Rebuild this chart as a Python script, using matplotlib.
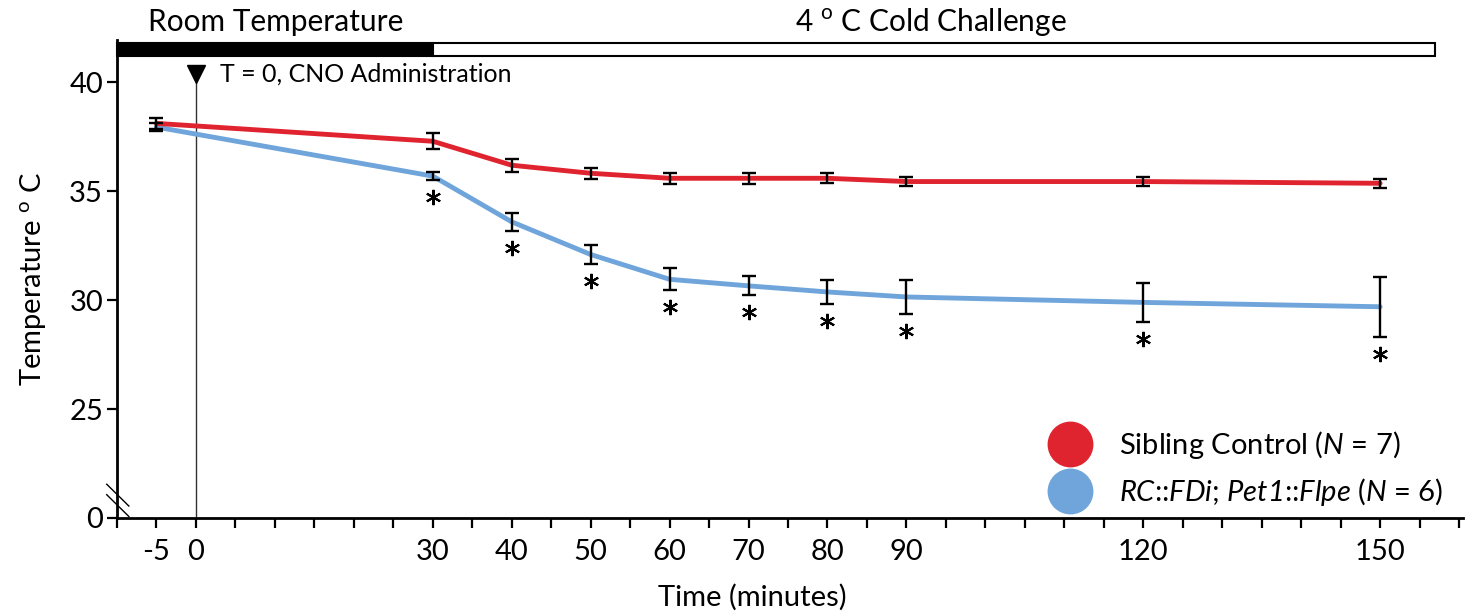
import numpy as np
import matplotlib
matplotlib.use("Agg")
import matplotlib.pyplot as plt
import matplotlib.transforms as mtransforms
from matplotlib.lines import Line2D
from matplotlib.patches import Rectangle

plt.rcParams['font.family'] = ['Lato', 'DejaVu Sans']
plt.rcParams['mathtext.fontset'] = 'custom'
plt.rcParams['mathtext.rm'] = 'Lato'
plt.rcParams['mathtext.it'] = 'Lato:italic'
plt.rcParams['mathtext.sf'] = 'Lato:italic'

# ---- data ----
time_min = [-5, 30, 40, 50, 60, 70, 80, 90, 120, 150]
control_mean = [38.12, 37.3, 36.2, 35.83, 35.6, 35.6, 35.6, 35.45, 35.45, 35.37]
control_sem = [0.25, 0.37, 0.3, 0.26, 0.25, 0.25, 0.22, 0.2, 0.22, 0.22]
mutant_mean = [37.95, 35.7, 33.6, 32.1, 30.96, 30.66, 30.38, 30.15, 29.9, 29.7]
mutant_sem = [0.2, 0.2, 0.4, 0.45, 0.5, 0.43, 0.56, 0.76, 0.9, 1.38]
significant = [False, True, True, True, True, True, True, True, True, True]

label_ticks = [-5, 0, 30, 40, 50, 60, 70, 80, 90, 120, 150]
y_ticks = [20, 25, 30, 35, 40]
y_ticklabels = ['0', '25', '30', '35', '40']

red = '#e0242f'
blue = '#6fa5da'
fs = 21

fig = plt.figure(figsize=(14.76, 6.13), dpi=100)
ax = fig.add_axes([117 / 1476, 1 - 518 / 613, (1463 - 117) / 1476, (518 - 40) / 613])
ax.set_xlim(-10, 160.5)
ax.set_ylim(20, 41.95)

# lines
ax.plot(time_min, mutant_mean, color=blue, lw=3.5, zorder=3, solid_capstyle='round')
ax.plot(time_min, control_mean, color=red, lw=3.5, zorder=3, solid_capstyle='round')
ax.errorbar(time_min, control_mean, yerr=control_sem, fmt='none', ecolor='black',
            elinewidth=1.7, capsize=5, capthick=1.7, zorder=4)
ax.errorbar(time_min, mutant_mean, yerr=mutant_sem, fmt='none', ecolor='black',
            elinewidth=1.7, capsize=5, capthick=1.7, zorder=4)

# significance asterisks, a fixed distance below the lower error bar
below = mtransforms.offset_copy(ax.transData, fig=fig, y=-17, units='dots')
sig_t = [t for t, s in zip(time_min, significant) if s]
sig_y = [m - e for m, e, s in zip(mutant_mean, mutant_sem, significant) if s]
ax.plot(sig_t, sig_y, ls='none', marker=(6, 2, 0), ms=11, mew=1.5, color='black',
        transform=below, zorder=4)

# CNO marker
ax.vlines(0, 20, 40.05, color='#333333', lw=1)
ax.plot([0], [40.37], marker='v', color='black', markersize=13, clip_on=False)
ax.text(3.0, 40.37, 'T = 0, CNO Administration', fontsize=18, va='center', ha='left')

# condition bar at the top
ax.add_patch(Rectangle((-10, 41.2), 40, 0.6, facecolor='black', edgecolor='black',
                       lw=1.5, clip_on=False))
ax.add_patch(Rectangle((30, 41.2), 127, 0.6, facecolor='white', edgecolor='black',
                       lw=1.5, clip_on=False))
fig.text(148 / 1476, 1 - 22 / 613, 'Room Temperature', fontsize=21.5, va='center', ha='left')
fig.text(931 / 1476, 1 - 22 / 613, r'4 $^\mathregular{o}$ C Cold Challenge', fontsize=21.5,
         va='center', ha='center')

# axes styling
for side in ['top', 'right']:
    ax.spines[side].set_visible(False)
for side in ['left', 'bottom']:
    ax.spines[side].set_linewidth(2)
ax.set_xticks(np.arange(-10, 161, 5), minor=True)
ax.set_xticks(label_ticks)
ax.set_xticklabels([str(t) for t in label_ticks])
ax.set_yticks(y_ticks)
ax.set_yticklabels(y_ticklabels)
ax.tick_params(axis='both', which='both', direction='out', length=7, width=1.6,
               labelsize=fs)
ax.tick_params(axis='x', pad=8)
ax.tick_params(axis='y', pad=3)

# axis break marks
for y0 in [20.62, 21.1]:
    ax.plot([-11.3, -8.5], [y0 + 0.45, y0 - 0.55], color='black', lw=1, clip_on=False)

ax.set_xlabel('Time (minutes)', fontsize=fs)
ax.xaxis.set_label_coords((752 - 117) / 1346, (518 - 584) / 478)
ax.set_ylabel(r'Temperature $^\mathregular{o}$ C', fontsize=fs)
ax.yaxis.set_label_coords((48 - 117) / 1346, 0.5)

# legend
handles = [
    Line2D([], [], marker='o', ls='none', markersize=32, color=red),
    Line2D([], [], marker='o', ls='none', markersize=32, color=blue),
]
labels = [r'Sibling Control ($\mathsf{N}$ = 7)',
          r'$\mathsf{RC}$::$\mathsf{FDi}$; $\mathsf{Pet1}$::$\mathsf{Flpe}$ ($\mathsf{N}$ = 6)']
ax.legend(handles, labels, loc='lower right', bbox_to_anchor=(1458 / 1476, 1 - 523 / 613),
          bbox_transform=fig.transFigure, frameon=False, fontsize=fs,
          handletextpad=1.1, labelspacing=0.52, borderpad=0, handlelength=1.2)

fig.savefig('out.png', dpi=100)
